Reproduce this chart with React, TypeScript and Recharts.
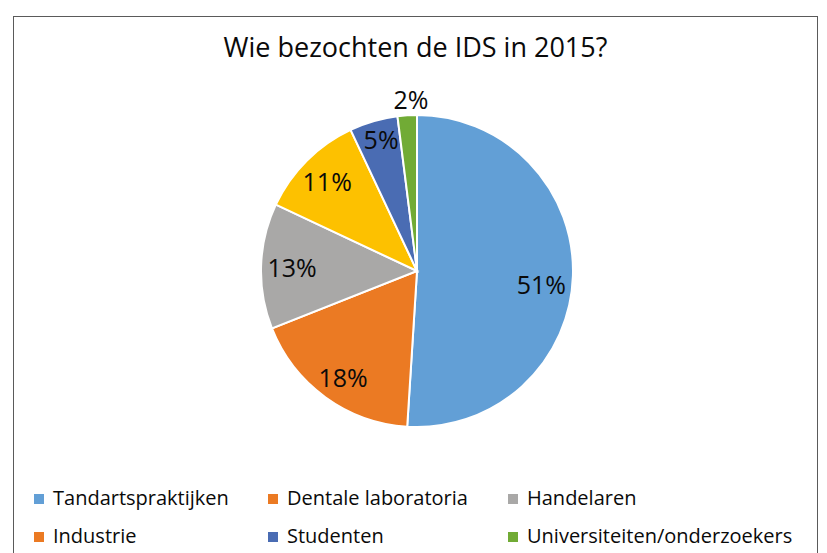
import React from "react";
import { PieChart, Pie, Cell, Legend } from "recharts";

const categories = [
  "Tandartspraktijken",
  "Dentale laboratoria",
  "Handelaren",
  "Industrie",
  "Studenten",
  "Universiteiten/onderzoekers",
];
const values = [51, 18, 13, 11, 5, 2];
const title = "Wie bezochten de IDS in 2015?";

const sliceColors = ["#629FD6", "#EB7A23", "#A9A8A7", "#FDC100", "#4A6CB3", "#71AB35"];
// legend markers as drawn in the reference (Industrie shows orange)
const legendColors = ["#629FD6", "#EB7A23", "#A9A8A7", "#EB7A23", "#4A6CB3", "#71AB35"];

const labelStyle: Record<string, { r: number; dA: number }> = {
  Tandartspraktijken: { r: 125, dA: -4.2 },
  "Dentale laboratoria": { r: 129, dA: 1 },
  Handelaren: { r: 125, dA: 0 },
  Industrie: { r: 127, dA: 0 },
  Studenten: { r: 137, dA: -1 },
  "Universiteiten/onderzoekers": { r: 172, dA: -1.6 },
};

const data = categories.map((name, i) => ({ name, value: values[i] }));

const FONT = "'Open Sans', 'Noto Sans', sans-serif";
const RAD = Math.PI / 180;

const renderLabel = (props: any) => {
  const { cx, cy, midAngle, name, value } = props;
  const s = labelStyle[name] || { r: 125, dA: 0 };
  const a = (midAngle + s.dA) * RAD;
  const x = cx + s.r * Math.cos(a);
  const y = cy - s.r * Math.sin(a);
  return (
    <text
      x={x}
      y={y}
      textAnchor="middle"
      dominantBaseline="central"
      fontFamily={FONT}
      fontSize={25}
      fill="#0a0a0a"
    >
      {`${value}%`}
    </text>
  );
};

const legendColumnsX = [34, 268, 508];

const renderLegend = () => (
  <div style={{ position: "relative", width: 827, height: 74, fontFamily: FONT }}>
    {categories.map((c, i) => {
      const col = i % 3;
      const row = Math.floor(i / 3);
      return (
        <div
          key={c}
          style={{
            position: "absolute",
            left: legendColumnsX[col],
            top: row * 38,
            display: "flex",
            alignItems: "center",
            whiteSpace: "nowrap",
            fontSize: 20,
            color: "#0a0a0a",
            lineHeight: "28px",
          }}
        >
          <span
            style={{
              display: "inline-block",
              width: 10,
              height: 10,
              background: legendColors[i],
              marginRight: 9,
              marginTop: 2,
            }}
          />
          {c}
        </div>
      );
    })}
  </div>
);

export default function App() {
  return (
    <div style={{ position: "absolute", left: 0, top: 0, width: 827, height: 553, background: "#fff", overflow: "hidden" }}>
      <div
        style={{
          position: "absolute",
          left: 13,
          top: 16,
          width: 805,
          height: 600,
          border: "1.5px solid #5a5a5a",
          boxSizing: "border-box",
        }}
      />
      <div
        style={{
          position: "absolute",
          left: 0,
          top: 27,
          width: 831,
          textAlign: "center",
          fontFamily: FONT,
          fontSize: 27,
          color: "#0a0a0a",
          lineHeight: "40px",
        }}
      >
        {title}
      </div>
      <div style={{ position: "absolute", left: 0, top: 0 }}>
        <PieChart width={827} height={553} margin={{ top: 0, right: 0, bottom: 0, left: 0 }}>
          <Pie
            data={data}
            dataKey="value"
            nameKey="name"
            cx={417}
            cy={271}
            outerRadius={156}
            startAngle={90}
            endAngle={-270}
            stroke="#ffffff"
            strokeWidth={2}
            label={renderLabel}
            labelLine={false}
            isAnimationActive={false}
          >
            {data.map((d, i) => (
              <Cell key={d.name} fill={sliceColors[i]} />
            ))}
          </Pie>
          <Legend
            content={renderLegend}
            verticalAlign="bottom"
            height={74}
            wrapperStyle={{ position: "absolute", left: 0, top: 484, bottom: "auto", width: 827, height: 74 }}
          />
        </PieChart>
      </div>
    </div>
  );
}
